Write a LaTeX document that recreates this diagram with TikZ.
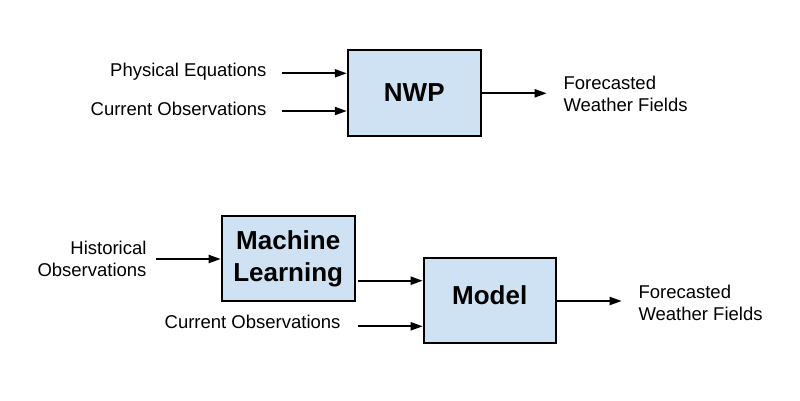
\documentclass[tikz,border=0pt]{standalone}
\usepackage{fontspec}
\setmainfont{Liberation Sans}
\usetikzlibrary{arrows.meta}
\definecolor{boxfill}{HTML}{CFE2F3}
\begin{document}
\begin{tikzpicture}[x=1pt,y=-1pt,
  procbox/.style={draw=black,line width=2pt,fill=boxfill,inner sep=0pt,
    font=\fontsize{26}{32.3}\selectfont\bfseries,align=center},
  lbl/.style={inner sep=0pt,font=\fontsize{18.5}{21.7}\selectfont},
  arr/.style={line width=2pt,-{Triangle[length=12pt,width=8pt]}}]
\useasboundingbox (0,0) rectangle (800,400);
% boxes
\node[procbox,minimum width=133pt,minimum height=86pt] (nwp) at (414.3,93) {NWP};
\node[procbox,minimum width=133pt,minimum height=85.3pt] (ml) at (288.2,258.7) {Machine\\Learning};
\node[procbox,minimum width=132pt,minimum height=85pt,text depth=12pt] (model) at (489.7,300.8) {Model};
% labels
\node[lbl,anchor=base east] (pe) at (266.7,76.7) {Physical Equations};
\node[lbl,anchor=base east] (co1) at (266.7,115) {Current Observations};
\node[lbl,anchor=north west,align=left] (fw1) at (563.3,75.8) {Forecasted\\Weather Fields};
\node[lbl,anchor=north east,align=right] (hist) at (146.7,241.1) {Historical\\Observations};
\node[lbl,anchor=base east] (co2) at (340.7,328.3) {Current Observations};
\node[lbl,anchor=north west,align=left] (fw2) at (638.3,284.8) {Forecasted\\Weather Fields};
% arrow ends
\coordinate (peS) at (281.7,73.3);
\coordinate (co1S) at (281.7,111);
\coordinate (nwpE) at (546.7,93.3);
\coordinate (histS) at (155.7,259);
\coordinate (mlY) at (358.3,280.7);
\coordinate (co2S) at (358.3,326.3);
\coordinate (modelE) at (621.7,301);
% connectors
\draw[arr] (peS) -- (peS -| nwp.west);
\draw[arr] (co1S) -- (co1S -| nwp.west);
\draw[arr] (nwp.east |- nwpE) -- (nwpE);
\draw[arr] (histS) -- (histS -| ml.west);
\draw[arr] (mlY) -- (mlY -| model.west);
\draw[arr] (co2S) -- (co2S -| model.west);
\draw[arr] (model.east |- modelE) -- (modelE);
\end{tikzpicture}
\end{document}
